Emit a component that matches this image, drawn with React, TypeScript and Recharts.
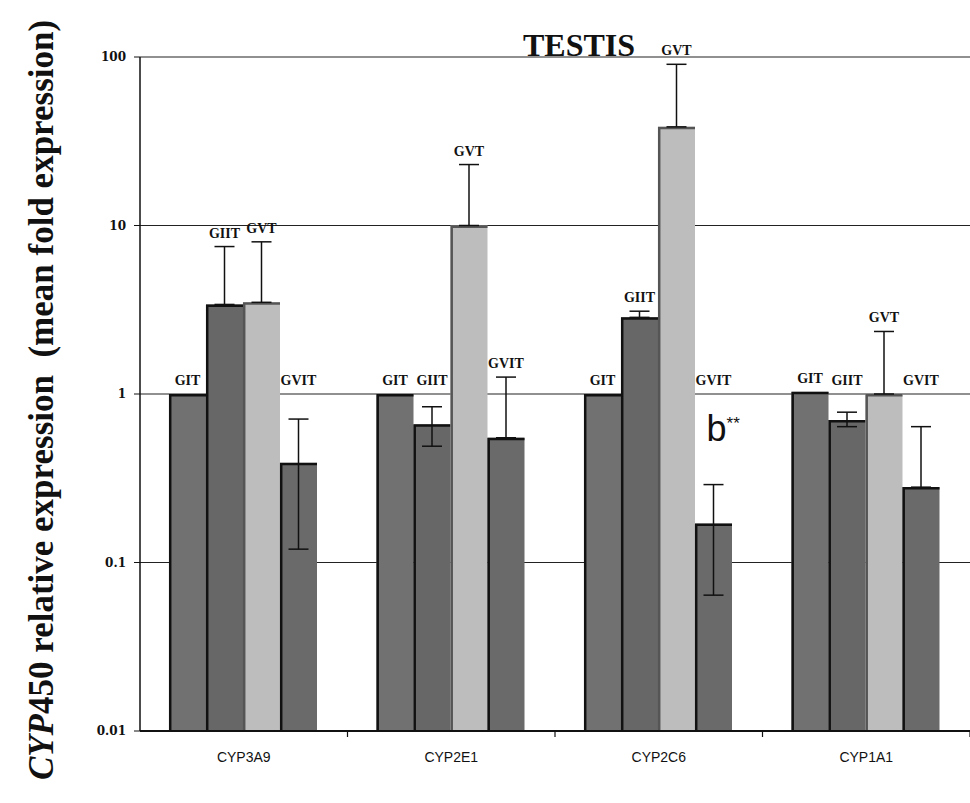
import React from "react";
import { Bar, BarChart, CartesianGrid, ErrorBar, LabelList, XAxis, YAxis } from "recharts";

// genes on the x axis
const genes = ["CYP3A9", "CYP2E1", "CYP2C6", "CYP1A1"];

// mean fold expression per group (GIT is the reference group)
const gitValues = [1, 1, 1, 1.03];
const giitValues = [3.4, 0.66, 2.85, 0.7];
const gvtValues = [3.5, 10, 38.5, 1.0];
const gvitValues = [0.39, 0.55, 0.17, 0.28];

// [below, above] error for each bar
const giitErr = [[0, 4.1], [0.17, 0.18], [0, 0.25], [0.06, 0.08]];
const gvtErr = [[0, 4.5], [0, 13], [0, 52], [0, 1.35]];
const gvitErr = [[0.27, 0.32], [0, 0.71], [0.106, 0.12], [0, 0.36]];

// significance marks on the GVIT bars
const gvitSig = ["", "", "b**", ""];

const yTicks = [0.01, 0.1, 1, 10, 100];

const data = genes.map((g, i) => ({
  gene: g,
  GIT: gitValues[i],
  GIIT: giitValues[i],
  GVT: gvtValues[i],
  GVIT: gvitValues[i],
  eGIIT: giitErr[i],
  eGVT: gvtErr[i],
  eGVIT: gvitErr[i],
}));

const W = 970;
const H = 803;
const LEFT = 140;
const BAND = (W - LEFT) / genes.length;

const serif = "'Liberation Serif', 'Times New Roman', serif";
const narrow = "'Liberation Sans Narrow', 'Arial Narrow', sans-serif";

function barShape(edge: string) {
  return (p: any) => {
    const { x, y, width, height, fill } = p;
    if (!height || height <= 0) return <g />;
    return (
      <g>
        <rect x={x} y={y} width={width} height={height} fill={fill} />
        <path d={`M${x + 1.2},${y + height} V${y + 1.2} H${x + width}`} stroke={edge} strokeWidth={2.5} fill="none" />
      </g>
    );
  };
}

function makeLabel(name: string, values: number[], errs?: number[][], sig?: string[]) {
  return (p: any) => {
    const { x, y, width, height, index } = p;
    const v = values[index];
    const top = v + (errs ? errs[index][1] : 0);
    const decade = height / (Math.log10(v) + 2);
    const anchor = Math.max(top, 1);
    const ay = y - Math.log10(anchor / v) * decade;
    const cx = x + width / 2;
    const s = sig ? sig[index] : "";
    const topY = y - Math.log10(top / v) * decade;
    return (
      <g>
        <text x={cx} y={ay - 9} textAnchor="middle" fontFamily={serif} fontWeight="bold" fontSize={14} fill="#111">
          {name}
        </text>
        {s ? (
          <text x={cx - 7} y={topY - 44} fontFamily={narrow} fontSize={36} fill="#111">
            {s.slice(0, 1)}
            <tspan fontSize={17} dy={-12}>{s.slice(1)}</tspan>
          </text>
        ) : null}
      </g>
    );
  };
}

const GeneTick = (p: any) => {
  const { x, y, payload } = p;
  const half = payload && payload.offset ? payload.offset : BAND / 2;
  return (
    <g>
      <line x1={x + half} x2={x + half} y1={y} y2={y + 6} stroke="#111" strokeWidth={1.2} />
      <text x={x} y={y + 31} textAnchor="middle" fontFamily={narrow} fontSize={14} fill="#111">
        {payload.value}
      </text>
    </g>
  );
};

export default function App() {
  return (
    <div style={{ position: "absolute", left: 0, top: 0, width: W, height: H, background: "#fff" }}>
      <BarChart
        width={W}
        height={H}
        data={data}
        margin={{ top: 57, right: 0, bottom: 32, left: LEFT - 60 }}
        barCategoryGap={29}
        barGap={0}
      >
        <CartesianGrid vertical={false} stroke="#222" strokeWidth={1.2} />
        <XAxis
          dataKey="gene"
          tick={<GeneTick />}
          tickLine={false}
          tickSize={0}
          tickMargin={0}
          height={40}
          axisLine={{ stroke: "#111", strokeWidth: 2 }}
          interval={0}
        />
        <YAxis
          scale="log"
          domain={[0.01, 100]}
          ticks={yTicks}
          allowDataOverflow
          width={60}
          tickSize={6}
          tickMargin={8}
          tickFormatter={(v: number) => String(v)}
          tick={{ fontFamily: "'DejaVu Serif', serif", fontWeight: "bold", fontSize: 12, fill: "#111" }}
          tickLine={{ stroke: "#111" }}
          axisLine={{ stroke: "#111", strokeWidth: 1.5 }}
        />
        <Bar dataKey="GIT" fill="#717171" shape={barShape("#111")} isAnimationActive={false}>
          <LabelList dataKey="GIT" content={makeLabel("GIT", gitValues)} />
        </Bar>
        <Bar dataKey="GIIT" fill="#676767" shape={barShape("#111")} isAnimationActive={false}>
          <ErrorBar dataKey="eGIIT" width={10} stroke="#111" strokeWidth={1.5} />
          <LabelList dataKey="GIIT" content={makeLabel("GIIT", giitValues, giitErr)} />
        </Bar>
        <Bar dataKey="GVT" fill="#bdbdbd" shape={barShape("#555")} isAnimationActive={false}>
          <ErrorBar dataKey="eGVT" width={10} stroke="#111" strokeWidth={1.5} />
          <LabelList dataKey="GVT" content={makeLabel("GVT", gvtValues, gvtErr)} />
        </Bar>
        <Bar dataKey="GVIT" fill="#6a6a6a" shape={barShape("#111")} isAnimationActive={false}>
          <ErrorBar dataKey="eGVIT" width={10} stroke="#111" strokeWidth={1.5} />
          <LabelList dataKey="GVIT" content={makeLabel("GVIT", gvitValues, gvitErr, gvitSig)} />
        </Bar>
      </BarChart>
      <svg width={W} height={H} style={{ position: "absolute", left: 0, top: 0, pointerEvents: "none" }}>
        <text x={579} y={56} textAnchor="middle" fontFamily={serif} fontWeight="bold" fontSize={32} fill="#111">
          TESTIS
        </text>
        <text
          transform="translate(41,400) rotate(-90)"
          textAnchor="middle"
          dominantBaseline="central"
          fontFamily={serif}
          fontWeight="bold"
          fontSize={35}
          fill="#111"
          style={{ whiteSpace: "pre" }}
        >
          <tspan fontStyle="italic">CYP</tspan>450 relative expression  (mean fold expression)
        </text>
      </svg>
    </div>
  );
}
